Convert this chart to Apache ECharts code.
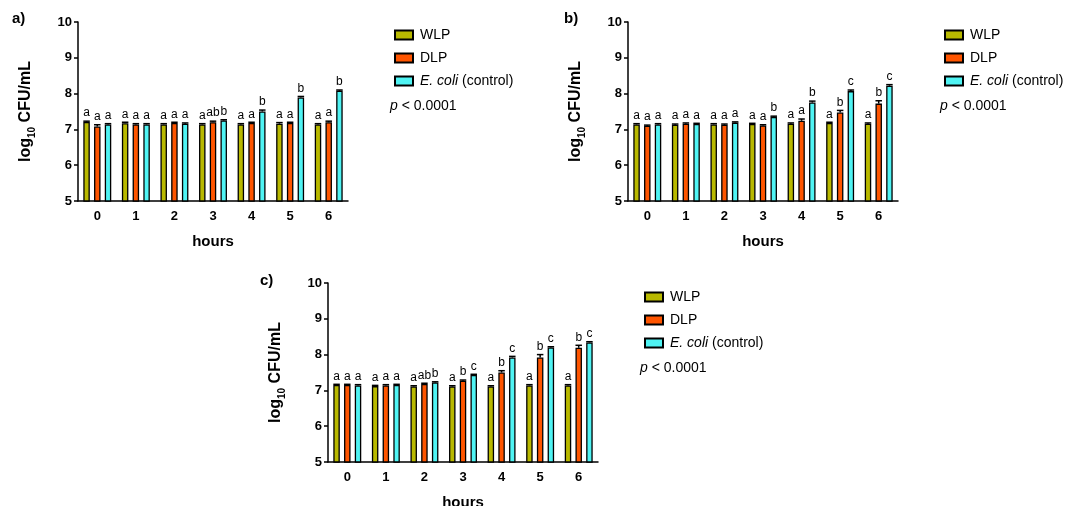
<!DOCTYPE html>
<html><head><meta charset="utf-8">
<script src="https://cdn.jsdelivr.net/npm/echarts@6/dist/echarts.min.js"></script>
<style>html,body{margin:0;padding:0;background:#fff}#c{width:1070px;height:506px}</style>
</head><body><div id="c"></div>
<script>
// ---- data ----
const hours = ['0','1','2','3','4','5','6'];
const seriesNames = ['WLP','DLP','E. coli (control)'];
const yTicks = [5,6,7,8,9,10];

const aWLP = [7.21,7.17,7.14,7.14,7.14,7.16,7.14];
const aDLP = [7.08,7.14,7.18,7.20,7.18,7.18,7.20];
const aEC  = [7.14,7.14,7.16,7.25,7.50,7.89,8.08];
const aWLPerr = [0.02,0.03,0.02,0.02,0.02,0.03,0.02];
const aDLPerr = [0.05,0.02,0.02,0.03,0.02,0.02,0.03];
const aECerr  = [0.02,0.02,0.02,0.02,0.04,0.03,0.02];
const aWLPlet = ['a','a','a','a','a','a','a'];
const aDLPlet = ['a','a','a','ab','a','a','a'];
const aEClet  = ['a','a','a','b','b','b','b'];

const bWLP = [7.14,7.13,7.14,7.15,7.16,7.18,7.16];
const bDLP = [7.10,7.16,7.13,7.11,7.24,7.47,7.72];
const bEC  = [7.14,7.15,7.19,7.35,7.75,8.07,8.22];
const bWLPerr = [0.02,0.02,0.02,0.02,0.02,0.02,0.02];
const bDLPerr = [0.02,0.02,0.02,0.02,0.05,0.06,0.08];
const bECerr  = [0.02,0.02,0.02,0.02,0.04,0.03,0.03];
const bWLPlet = ['a','a','a','a','a','a','a'];
const bDLPlet = ['a','a','a','a','a','b','b'];
const bEClet  = ['a','a','a','b','b','c','c'];

const cWLP = [7.15,7.12,7.11,7.11,7.11,7.14,7.14];
const cDLP = [7.15,7.14,7.18,7.27,7.50,7.92,8.19];
const cEC  = [7.14,7.15,7.22,7.43,7.92,8.20,8.34];
const cWLPerr = [0.02,0.02,0.02,0.02,0.02,0.02,0.02];
const cDLPerr = [0.02,0.02,0.02,0.02,0.05,0.08,0.07];
const cECerr  = [0.02,0.02,0.02,0.02,0.03,0.02,0.02];
const cWLPlet = ['a','a','a','a','a','a','a'];
const cDLPlet = ['a','a','ab','b','b','b','b'];
const cEClet  = ['a','a','b','c','c','c','c'];

const panels = [
  {label:'a)', vals:[aWLP,aDLP,aEC], errs:[aWLPerr,aDLPerr,aECerr], lets:[aWLPlet,aDLPlet,aEClet]},
  {label:'b)', vals:[bWLP,bDLP,bEC], errs:[bWLPerr,bDLPerr,bECerr], lets:[bWLPlet,bDLPlet,bEClet]},
  {label:'c)', vals:[cWLP,cDLP,cEC], errs:[cWLPerr,cDLPerr,cECerr], lets:[cWLPlet,cDLPlet,cEClet]}
];

// ---- styles / layout ----
const colors = ['#b9b900','#ff5500','#4ff3f3'];
const grids = [
  {left:78, top:22, width:270, height:179, outerBoundsMode:'none'},
  {left:628, top:22, width:270, height:179, outerBoundsMode:'none'},
  {left:328, top:283, width:270, height:179, outerBoundsMode:'none'}
];
const legendPos = [{left:389, top:23},{left:939, top:23},{left:639, top:285}];
const pPos = [{x:390, y:107},{x:940, y:107},{x:640, y:369}];
const labelPos = [{x:12, y:20},{x:564, y:20},{x:260, y:282}];
const BAR_W = 6.5, BAR_GAP = 0.65;
const FONT = 'Liberation Sans, Arial, sans-serif';

const option = {
  animation:false,
  textStyle:{fontFamily:FONT},
  grid: grids,
  xAxis: grids.map((g,i)=>({
    type:'category', gridIndex:i, data:hours,
    name:'hours', nameLocation:'middle', nameGap:33,
    nameTextStyle:{fontSize:15, fontWeight:'bold', color:'#000', fontFamily:FONT},
    axisLine:{lineStyle:{color:'#000', width:1.5}},
    axisTick:{alignWithLabel:true, length:4, lineStyle:{color:'#000', width:1.5}},
    axisLabel:{fontSize:13, fontWeight:'bold', color:'#000', margin:9, fontFamily:FONT}
  })),
  yAxis: grids.map((g,i)=>({
    type:'value', gridIndex:i, min:yTicks[0], max:yTicks[yTicks.length-1], interval:1,
    name:'{m|log}{s|10}{m| CFU/mL}', nameLocation:'middle', nameGap:44, nameRotate:90,
    nameTextStyle:{rich:{
      m:{fontSize:16, fontWeight:'bold', color:'#000', fontFamily:FONT, lineHeight:18, verticalAlign:'bottom'},
      s:{fontSize:10, fontWeight:'bold', color:'#000', fontFamily:FONT, lineHeight:18, verticalAlign:'bottom', padding:[0,0,-3,0]}
    }},
    axisLine:{show:true, lineStyle:{color:'#000', width:1.5}},
    axisTick:{show:true, length:4, lineStyle:{color:'#000', width:1.5}},
    splitLine:{show:false},
    axisLabel:{fontSize:13, fontWeight:'bold', color:'#000', margin:6, fontFamily:FONT}
  })),
  legend: legendPos.map((p,i)=>({
    orient:'vertical', left:p.left, top:p.top, itemWidth:18, itemHeight:9, itemGap:9,
    icon:'rect', data:seriesNames, selectedMode:false,
    itemStyle:{borderColor:'#000', borderWidth:2},
    textStyle:{fontSize:14, color:'#000', fontFamily:FONT, padding:[0,0,0,2],
      rich:{i:{fontStyle:'italic', fontSize:14, fontFamily:FONT, color:'#000'}}},
    formatter: n => n==='E. coli (control)' ? '{i|E. coli} (control)' : n
  })),
  series: [],
  graphic: []
};

panels.forEach((pn,pi)=>{
  pn.vals.forEach((vals,si)=>{
    option.series.push({
      type:'bar', name:seriesNames[si], xAxisIndex:pi, yAxisIndex:pi,
      data:vals, barWidth:BAR_W, barGap:(BAR_GAP*100)+'%',
      itemStyle:{color:colors[si], borderColor:'#000', borderWidth:1.3},
      z:2
    });
  });
  pn.vals.forEach((vals,si)=>{
    const errs = pn.errs[si], lets = pn.lets[si];
    option.series.push({
      type:'custom', name:'err'+pi+'_'+si, xAxisIndex:pi, yAxisIndex:pi, z:5,
      data: vals.map((v,k)=>[k, v, errs[k]]),
      renderItem:(params, api)=>{
        const k = api.value(0), v = api.value(1), e = api.value(2);
        const off = (si-1)*BAR_W*(1+BAR_GAP);
        const p0 = api.coord([k, v]);
        const p1 = api.coord([k, v+e]);
        const x = p0[0]+off;
        const cap = BAR_W/2;
        return {type:'group', children:[
          {type:'line', shape:{x1:x, y1:p0[1], x2:x, y2:p1[1]}, style:{stroke:'#000', lineWidth:1.5}},
          {type:'line', shape:{x1:x-cap, y1:p1[1], x2:x+cap, y2:p1[1]}, style:{stroke:'#000', lineWidth:1.5}},
          {type:'text', x:x, y:p1[1]-2, style:{text:lets[k], fontSize:12, fontFamily:FONT, fill:'#000', textAlign:'center', textVerticalAlign:'bottom'}}
        ]};
      }
    });
  });
  option.graphic.push({type:'text', left:labelPos[pi].x, top:labelPos[pi].y-9,
    style:{text:pn.label, font:'bold 15px '+FONT, fill:'#000'}});
  option.graphic.push({type:'text', left:pPos[pi].x, top:pPos[pi].y-8,
    style:{text:'{i|p} < 0.0001', fill:'#000', font:'14px '+FONT,
      rich:{i:{fontStyle:'italic', fontSize:14, fontFamily:FONT, fill:'#000'}}}});
});

const chart = echarts.init(document.getElementById('c'), null, {renderer:'canvas'});
chart.setOption(option);
</script>
</body></html>
